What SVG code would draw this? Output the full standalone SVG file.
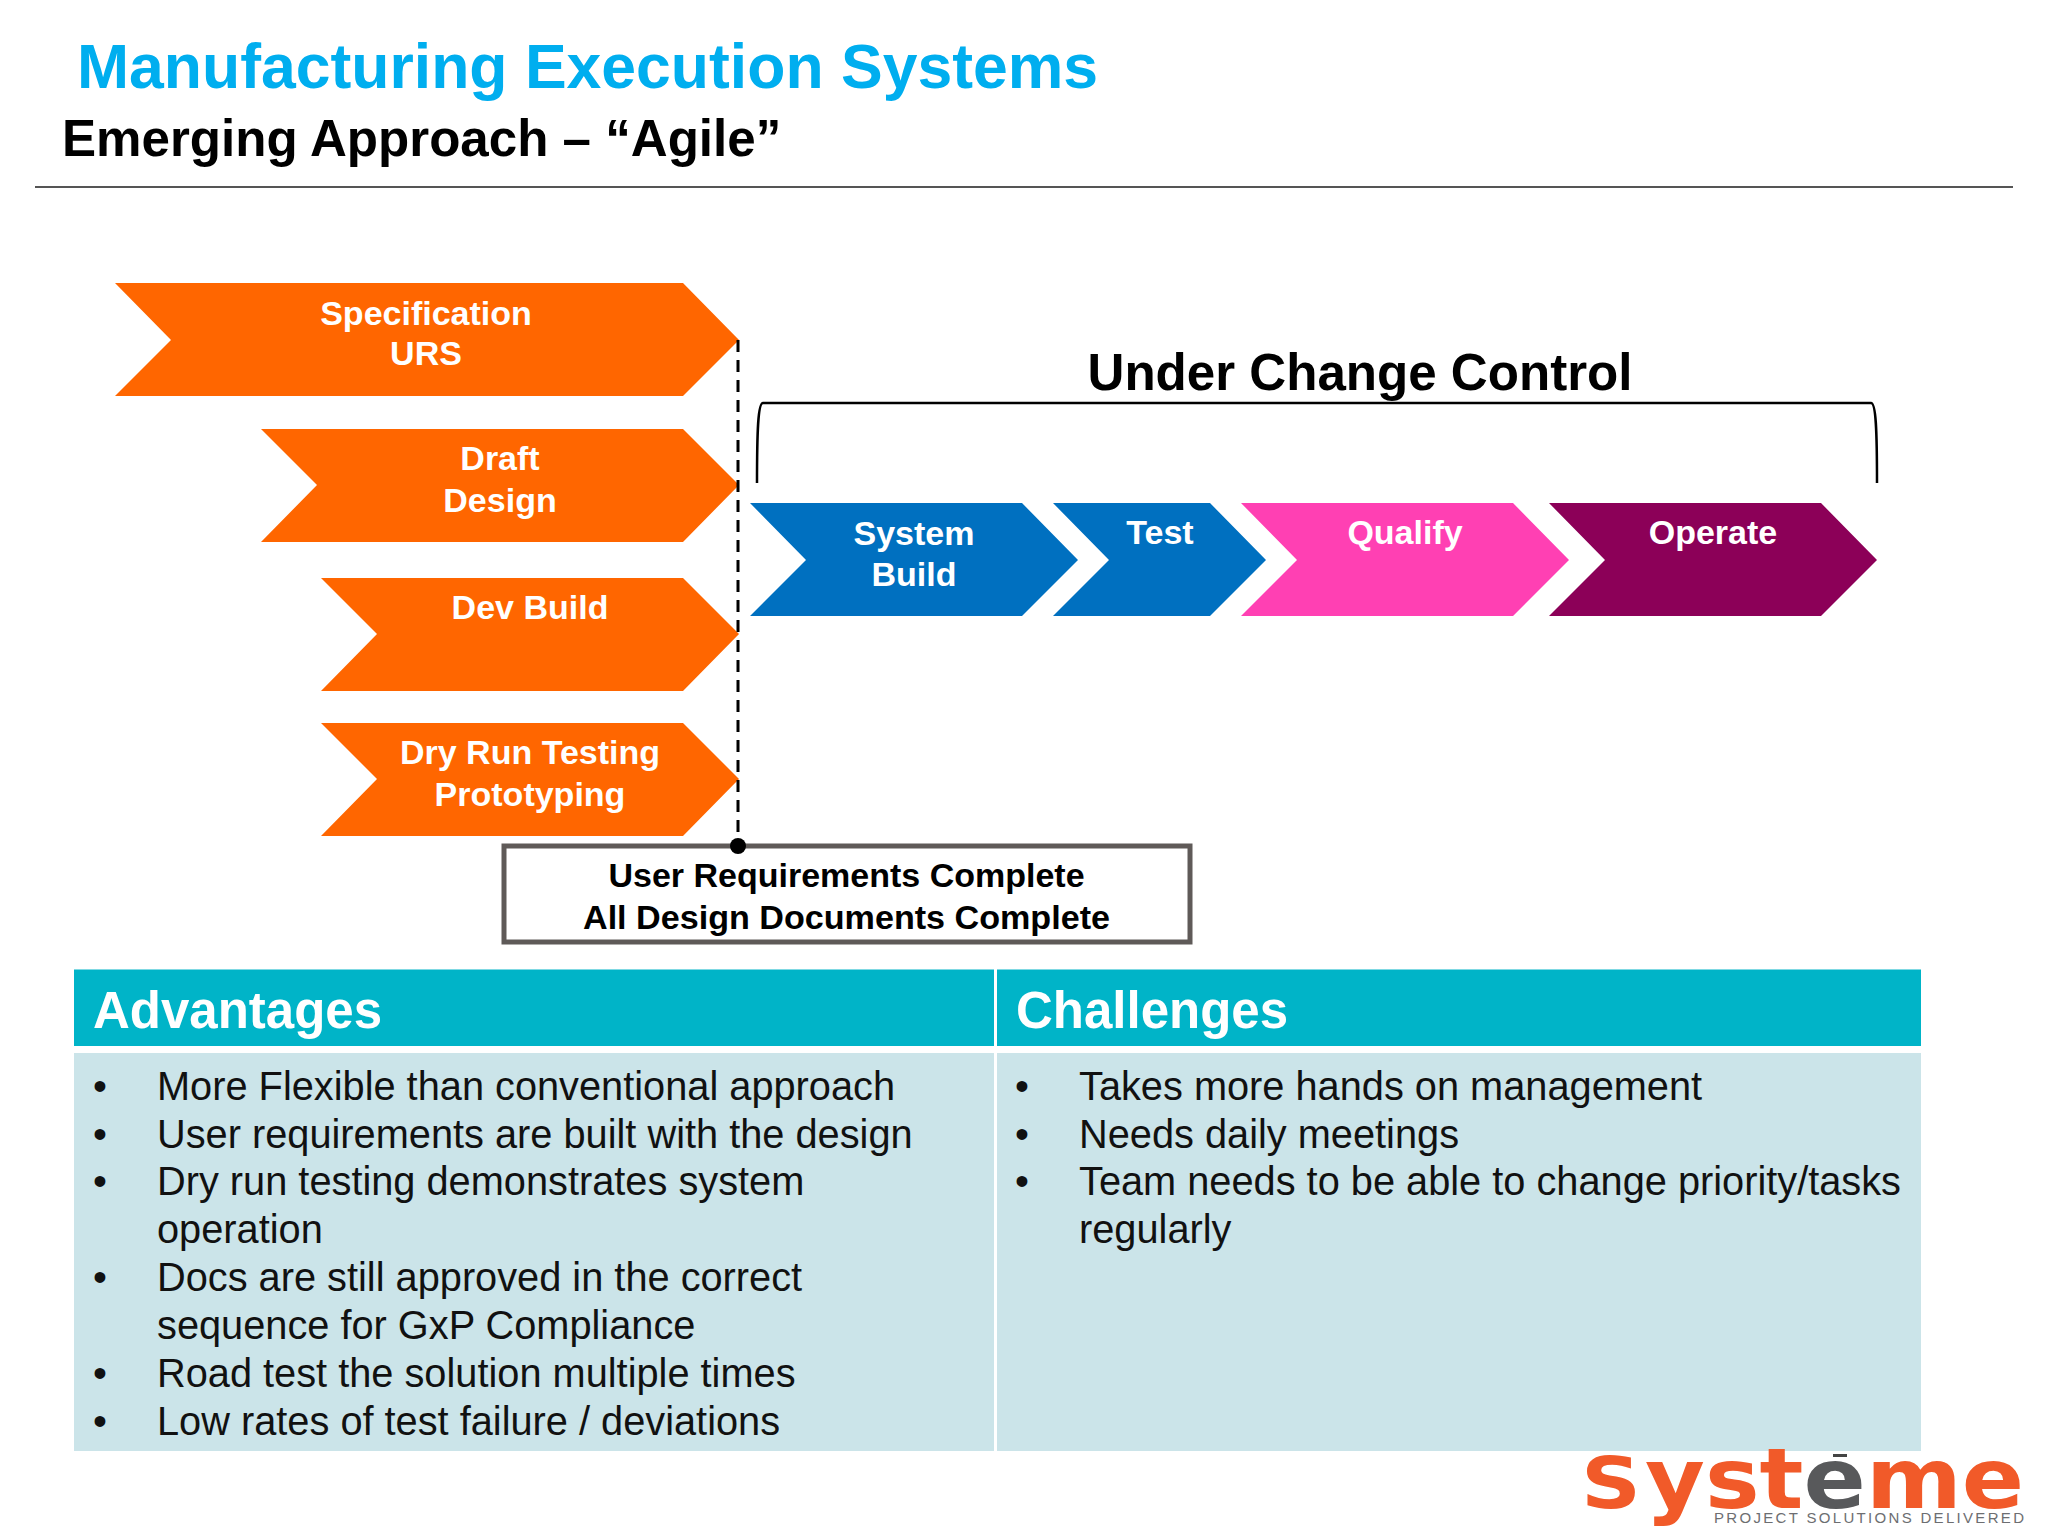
<svg xmlns="http://www.w3.org/2000/svg" width="2048" height="1536" viewBox="0 0 2048 1536">
<style>
text{font-family:"Liberation Sans",Arial,sans-serif}
.o{fill:#ff6600}.b{fill:#0070c0}.q{fill:#ff40b3}.p{fill:#8c0058}
.l{font-size:34px;font-weight:bold;fill:#fff;text-anchor:middle}
.h{font-size:51px;font-weight:bold;fill:#fff}
.t{font-size:39.75px;fill:#111}
.k{font-size:34px;font-weight:bold;fill:#000;text-anchor:middle}
.w{font-family:"DejaVu Sans",sans-serif;font-weight:bold;fill:#f15a29}
</style>
<rect width="2048" height="1536" fill="#fff"/>
<g id="title">
<text x="77" y="88" font-size="62.5" font-weight="bold" fill="#00aeef">Manufacturing Execution Systems</text>
<text x="62" y="156" font-size="51.1" font-weight="bold" fill="#000">Emerging Approach – “Agile”</text>
<line x1="35" y1="187" x2="2013" y2="187" stroke="#555" stroke-width="2"/>
</g>
<g id="spec"><path class="o" d="M115 283H683L739 340L683 396H115L171 340Z"/><text class="l" x="426" y="325">Specification</text><text class="l" x="426" y="365">URS</text></g>
<g id="draft"><path class="o" d="M261 429H683L739 485L683 542H261L317 485Z"/><text class="l" x="500" y="470">Draft</text><text class="l" x="500" y="512">Design</text></g>
<g id="dev"><path class="o" d="M321 578H683L739 634L683 691H321L377 634Z"/><text class="l" x="530" y="619">Dev Build</text></g>
<g id="dry"><path class="o" d="M321 723H683L739 779L683 836H321L377 779Z"/><text class="l" x="530" y="764">Dry Run Testing</text><text class="l" x="530" y="806">Prototyping</text></g>
<g id="build"><path class="b" d="M750 503H1022L1078 560L1022 616H750L806 560Z"/><text class="l" x="914" y="545">System</text><text class="l" x="914" y="586">Build</text></g>
<g id="test"><path class="b" d="M1053 503H1210L1266 560L1210 616H1053L1109 560Z"/><text class="l" x="1160" y="544">Test</text></g>
<g id="qualify"><path class="q" d="M1241 503H1513L1569 560L1513 616H1241L1297 560Z"/><text class="l" x="1405" y="544">Qualify</text></g>
<g id="operate"><path class="p" d="M1549 503H1821L1877 560L1821 616H1549L1605 560Z"/><text class="l" x="1713" y="544">Operate</text></g>
<g id="change-label"><text x="1360" y="390" font-size="51.1" font-weight="bold" fill="#000" text-anchor="middle">Under Change Control</text></g>
<g id="milestone"><rect x="504" y="846" width="686" height="96" fill="#fff" stroke="#5f5a58" stroke-width="5"/><text class="k" x="846.5" y="887">User Requirements Complete</text><text class="k" x="846.5" y="929" textLength="527" lengthAdjust="spacingAndGlyphs">All Design Documents Complete</text></g>
<g id="connectors" fill="none" stroke="#000">
<line x1="738" y1="340" x2="738" y2="846" stroke-width="3" stroke-dasharray="12 8"/>
<circle cx="738" cy="846" r="8" fill="#000" stroke="none"/>
<path d="M757 483C757 430 758 403 763 403H1871C1876 403 1877 430 1877 483" stroke-width="2.5"/>
</g>
<g id="advantages">
<rect x="74" y="969.5" width="920" height="76.5" fill="#00b4c8"/>
<rect x="74" y="1053" width="920" height="398" fill="#cbe4e9"/>
<text class="h" x="93" y="1028">Advantages</text>
<text class="t" x="93" y="1099.5">•</text><text class="t" x="157" y="1099.5">More Flexible than conventional approach</text>
<text class="t" x="93" y="1147.5">•</text><text class="t" x="157" y="1147.5">User requirements are built with the design</text>
<text class="t" x="93" y="1195">•</text><text class="t" x="157" y="1195">Dry run testing demonstrates system</text>
<text class="t" x="157" y="1243">operation</text>
<text class="t" x="93" y="1291">•</text><text class="t" x="157" y="1291">Docs are still approved in the correct</text>
<text class="t" x="157" y="1339">sequence for GxP Compliance</text>
<text class="t" x="93" y="1386.5">•</text><text class="t" x="157" y="1386.5">Road test the solution multiple times</text>
<text class="t" x="93" y="1434.5">•</text><text class="t" x="157" y="1434.5">Low rates of test failure / deviations</text>
</g>
<g id="challenges">
<rect x="997" y="969.5" width="924" height="76.5" fill="#00b4c8"/>
<rect x="997" y="1053" width="924" height="398" fill="#cbe4e9"/>
<text class="h" x="1016" y="1028">Challenges</text>
<text class="t" x="1015" y="1099.5">•</text><text class="t" x="1079" y="1099.5">Takes more hands on management</text>
<text class="t" x="1015" y="1147.5">•</text><text class="t" x="1079" y="1147.5">Needs daily meetings</text>
<text class="t" x="1015" y="1195">•</text><text class="t" x="1079" y="1195">Team needs to be able to change priority/tasks</text>
<text class="t" x="1079" y="1243">regularly</text>
</g>
<g id="logo">
<text class="w" x="1581" y="1508" font-size="72" textLength="60" lengthAdjust="spacingAndGlyphs">S</text>
<text class="w" x="1645" y="1508" font-size="84" textLength="379" lengthAdjust="spacingAndGlyphs">yst<tspan fill="#58595b">e</tspan>me</text>
<rect x="1833" y="1454" width="14" height="3" fill="#444"/>
<text x="1714" y="1523" font-size="15" fill="#6d6e71" textLength="310" lengthAdjust="spacing">PROJECT SOLUTIONS DELIVERED</text>
</g>
</svg>
